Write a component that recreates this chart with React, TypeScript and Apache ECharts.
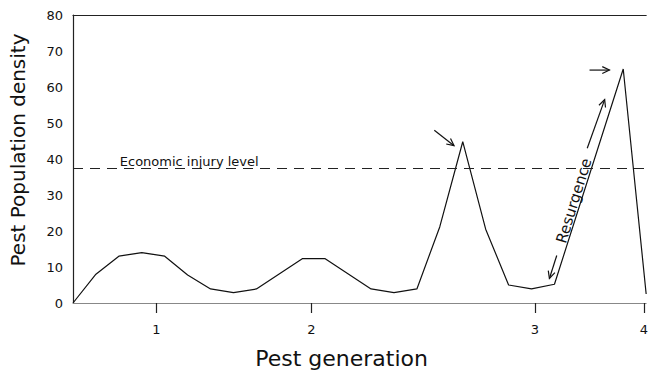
import React, { useEffect, useRef } from "react";
import * as echarts from "echarts";

// Time steps (x) and pest population density (y) at each vertex of the curve
const genSteps = [0, 1, 2, 3, 4, 5, 6, 7, 8, 10, 11, 13, 14, 15, 16, 17, 18, 19, 20, 21, 24, 25];
const density = [0, 8, 13, 14, 13, 7.8, 3.9, 2.9, 3.9, 12.3, 12.3, 3.9, 2.9, 3.9, 21.2, 44.8, 20.5, 5, 3.9, 5.2, 65, 2.5];

// Generation tick positions on the time-step scale and their labels
const genTickPos = [3.64, 10.4, 20.15, 24.9];
const genTickLabels = ["1", "2", "3", "4"];

const injuryLevel = 37.5;
const injuryLabel = "Economic injury level";
const injuryLabelAt = [2.04, 39.4];

// Annotation arrows in data coordinates (arrowhead at "to")
const arrowFrom = [[15.76, 48.0], [22.53, 64.7], [21.1, 13.2], [22.43, 43.0]];
const arrowTo = [[16.62, 43.7], [23.4, 64.7], [20.78, 6.8], [23.19, 56.5]];

const resurgenceLabel = "Resurgence";
const resurgenceAt = [21.85, 28.4];

const FONT = "DejaVu Sans";

export default function App() {
  const ref = useRef<HTMLDivElement>(null);
  useEffect(() => {
    if (!ref.current) return;
    const chart = echarts.init(ref.current, null, { renderer: "svg" });
    chart.setOption({
      animation: false,
      backgroundColor: "#fff",
      grid: { left: 73, right: 1, top: 15, bottom: 67.5 },
      xAxis: [
        {
          type: "value",
          min: 0,
          max: 25,
          position: "bottom",
          name: "Pest generation",
          nameLocation: "middle",
          nameGap: 44,
          nameTextStyle: { fontFamily: FONT, fontSize: 22, color: "#111", padding: [0, 36, 0, 0] },
          axisLine: { show: true, lineStyle: { color: "#888", width: 1 } },
          axisTick: {
            show: true,
            customValues: genTickPos,
            length: 10,
            inside: false,
            lineStyle: { color: "#222", width: 1.2 },
          },
          axisLabel: {
            customValues: genTickPos,
            margin: 20,
            fontFamily: FONT,
            fontSize: 13,
            color: "#111",
            formatter: (v: number) => {
              const i = genTickPos.findIndex((p) => Math.abs(p - v) < 1e-6);
              return i >= 0 ? genTickLabels[i] : "";
            },
          },
          splitLine: { show: false },
        },
        {
          type: "value",
          min: 0,
          max: 25,
          position: "top",
          axisLine: { show: true, lineStyle: { color: "#222", width: 1.2 } },
          axisTick: { show: false },
          axisLabel: { show: false },
          splitLine: { show: false },
        },
      ],
      yAxis: {
        type: "value",
        min: 0,
        max: 80,
        interval: 10,
        name: "Pest Population density",
        nameLocation: "middle",
        nameGap: 45,
        nameTextStyle: { fontFamily: FONT, fontSize: 20, color: "#111", padding: [0, 0, 0, 18] },
        axisLine: { show: true, lineStyle: { color: "#222", width: 1.2 } },
        axisTick: { show: false },
        axisLabel: { margin: 10, fontFamily: FONT, fontSize: 13, color: "#111" },
        splitLine: { show: false },
      },
      series: [
        {
          type: "line",
          xAxisIndex: 0,
          data: genSteps.map((x, i) => [x, density[i]]),
          showSymbol: false,
          symbol: "none",
          lineStyle: { color: "#111", width: 1.2 },
          markLine: {
            silent: true,
            symbol: "none",
            label: { show: false },
            lineStyle: { type: [10, 7], color: "#222", width: 1.2 },
            data: [{ yAxis: injuryLevel }],
          },
        },
      ],
    });

    const toPx = (p: number[]) =>
      chart.convertToPixel({ xAxisIndex: 0, yAxisIndex: 0 }, p) as number[];

    const elements: any[] = [];
    const lineStyle = { stroke: "#111", lineWidth: 1.2, fill: null };
    arrowFrom.forEach((f, i) => {
      const a = toPx(f);
      const b = toPx(arrowTo[i]);
      const ang = Math.atan2(b[1] - a[1], b[0] - a[0]);
      const L = 8;
      const h = 0.45;
      const p1 = [b[0] - L * Math.cos(ang - h), b[1] - L * Math.sin(ang - h)];
      const p2 = [b[0] - L * Math.cos(ang + h), b[1] - L * Math.sin(ang + h)];
      elements.push({ type: "line", shape: { x1: a[0], y1: a[1], x2: b[0], y2: b[1] }, style: lineStyle });
      elements.push({ type: "polyline", shape: { points: [p1, b, p2] }, style: lineStyle });
    });

    const lp = toPx(injuryLabelAt);
    elements.push({
      type: "text",
      x: lp[0],
      y: lp[1],
      style: {
        text: injuryLabel,
        fontFamily: FONT,
        fontSize: 13,
        fill: "#111",
        align: "left",
        verticalAlign: "middle",
      },
    });

    const r1 = toPx(arrowTo[2]);
    const r2 = toPx(arrowTo[3]);
    const rot = Math.atan2(-(r2[1] - r1[1]), r2[0] - r1[0]);
    const rp = toPx(resurgenceAt);
    elements.push({
      type: "text",
      x: rp[0],
      y: rp[1],
      rotation: rot,
      style: {
        text: resurgenceLabel,
        fontFamily: FONT,
        fontSize: 15,
        fill: "#111",
        align: "center",
        verticalAlign: "middle",
      },
    });

    chart.setOption({ graphic: { elements } });

    return () => chart.dispose();
  }, []);

  return <div ref={ref} style={{ width: 651, height: 374, position: "absolute", left: 0, top: 0 }} />;
}
